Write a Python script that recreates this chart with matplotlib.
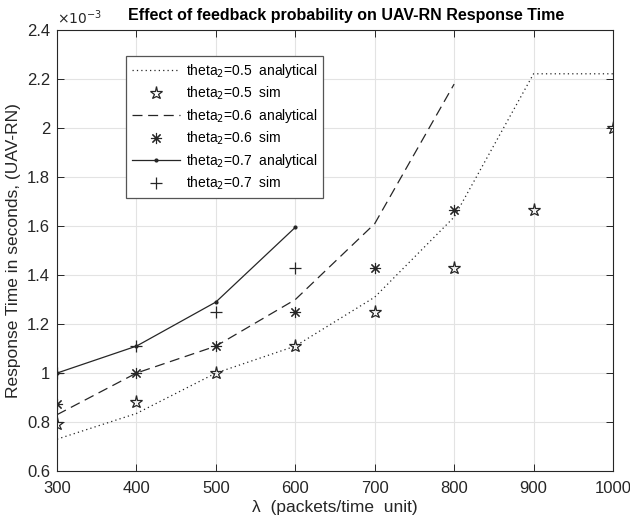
import matplotlib
matplotlib.use("Agg")
import matplotlib.pyplot as plt
import numpy as np

plt.rcParams['font.family'] = ['Liberation Sans', 'DejaVu Sans']

lam = [300, 400, 500, 600, 700, 800, 900, 1000]
# values in units of 1e-3 s
ana_05 = [0.73, 0.835, 1.0, 1.11, 1.31, 1.637, 2.222, 2.222]
sim_05 = [0.79, 0.88, 1.0, 1.11, 1.25, 1.43, 1.667, 2.0]
lam_06 = [300, 400, 500, 600, 700, 800]
ana_06 = [0.83, 1.0, 1.11, 1.30, 1.61, 2.18]
sim_06 = [0.875, 1.0, 1.11, 1.25, 1.43, 1.667]
lam_07 = [300, 400, 500, 600]
ana_07 = [1.0, 1.11, 1.29, 1.595]
sim_07 = [1.0, 1.11, 1.25, 1.43]
ytick_labels = ['0.6', '0.8', '1', '1.2', '1.4', '1.6', '1.8', '2', '2.2', '2.4']
scale = 1e-3

fig = plt.figure(figsize=(6.3, 5.18), dpi=100)
ax = fig.add_axes([0.0905, 0.0907, 0.8825, 0.851])

s = lambda v: np.array(v) * scale
c = '#262626'
ax.plot(lam, s(ana_05), color=c, linestyle=(0, (1, 2.5)), lw=0.9,
        label=r'theta$_2$=0.5  analytical')
ax.plot(lam, s(sim_05), linestyle='none', marker='*', mfc='none', mec=c,
        ms=9.5, mew=0.9, label=r'theta$_2$=0.5  sim')
ax.plot(lam_06, s(ana_06), color=c, linestyle=(0, (8, 4.5)), lw=0.9,
        label=r'theta$_2$=0.6  analytical')
ax.plot(lam_06, s(sim_06), linestyle='none', marker=(8, 2, 0), mec=c,
        ms=8, mew=0.8, label=r'theta$_2$=0.6  sim')
ax.plot(lam_07, s(ana_07), color=c, linestyle='-', lw=0.9, marker='.', ms=4,
        label=r'theta$_2$=0.7  analytical')
ax.plot(lam_07, s(sim_07), linestyle='none', marker='+', mec=c,
        ms=9, mew=0.9, label=r'theta$_2$=0.7  sim')

ax.set_xlim(300, 1000)
ax.set_ylim(0.6e-3, 2.4e-3)
ax.set_xticks(np.arange(300, 1001, 100))
ax.set_yticks(np.arange(0.6, 2.41, 0.2) * scale)
ax.set_yticklabels(ytick_labels)
ax.text(0.0, 1.008, r'$\times10^{-3}$', transform=ax.transAxes, fontsize=10,
        ha='left', va='bottom', color=c)

ax.grid(True, color='#e3e3e3', lw=0.8)
ax.set_axisbelow(True)
ax.tick_params(direction='in', top=True, right=True, labelsize=12,
               colors=c, length=5, width=0.7)
ax.tick_params(axis='x', pad=7)
ax.tick_params(axis='y', pad=5)
for sp in ax.spines.values():
    sp.set_color(c)
    sp.set_linewidth(0.8)

ax.set_xlabel('λ  (packets/time  unit)', fontsize=12.5, color=c, labelpad=3)
ax.set_ylabel('Response Time in seconds, (UAV-RN)', fontsize=12.5, color=c)
ax.set_title('Effect of feedback probability on UAV-RN Response Time', fontsize=11.5,
             fontweight='bold', pad=7, x=0.52)

leg = ax.legend(loc='upper left', bbox_to_anchor=(0.124, 0.941), fontsize=10,
                frameon=True, fancybox=False, edgecolor='#555555', framealpha=1,
                handlelength=3.5, borderpad=0.4, labelspacing=0.35, handletextpad=0.4,
                borderaxespad=0)
leg.get_frame().set_linewidth(0.9)

fig.savefig('out.png', dpi=100)
